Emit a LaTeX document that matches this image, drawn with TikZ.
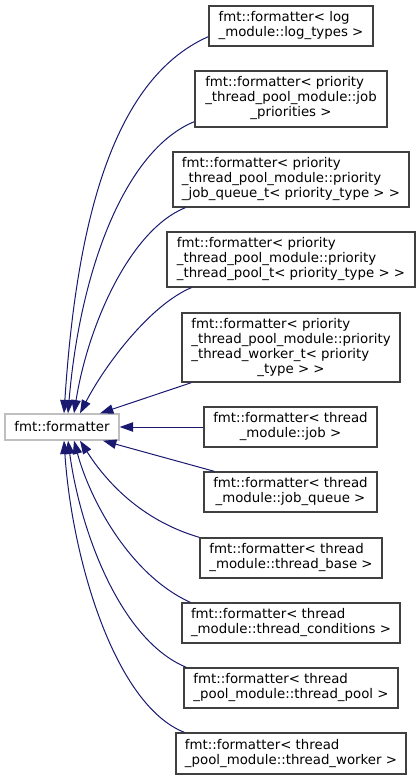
\documentclass[tikz,border=0pt]{standalone}
\usepackage{fontspec}
\setmainfont{DejaVu Sans}
\usetikzlibrary{arrows.meta}
\definecolor{edgeblue}{HTML}{191970}
\definecolor{boxgray}{HTML}{404040}
\definecolor{basegray}{HTML}{BFBFBF}
\newcommand{\dlab}[2]{\begin{tabular}{@{}l@{}}#1\\\multicolumn{1}{@{}c@{}}{#2}\end{tabular}}
\begin{document}
\begin{tikzpicture}[x=0.75pt,y=-0.75pt,
  sz/.style 2 args={minimum width=#1*0.75pt, minimum height=#2*0.75pt},
  cls/.style={draw=boxgray, line width=1pt, fill=white, inner sep=0pt, align=center,
    font=\fontsize{10}{11.25}\selectfont},
  basecls/.style={cls, draw=basegray},
  inh/.style={draw=edgeblue, line width=0.75pt, -{Triangle[length=10pt,width=7pt]}}]
\useasboundingbox (0,0) rectangle (420,780);
\node[basecls, sz={114}{26}] (fmt) at (62,427) {fmt::formatter};
\node[cls, sz={164}{40}] (c1) at (291,26) {\dlab{fmt::formatter< log}{\_module::log\_types >}};
\node[cls, sz={192}{56}] (c2) at (291,99) {\dlab{fmt::formatter< priority\\\_thread\_pool\_module::job}{\_priorities >}};
\node[cls, sz={236}{55}] (c3) at (291,179.5) {\dlab{fmt::formatter< priority\\\_thread\_pool\_module::priority}{\_job\_queue\_t< priority\_type > >}};
\node[cls, sz={248}{55}] (c4) at (291,259.5) {\dlab{fmt::formatter< priority\\\_thread\_pool\_module::priority}{\_thread\_pool\_t< priority\_type > >}};
\node[cls, sz={218}{69}] (c5) at (291,347.5) {\dlab{fmt::formatter< priority\\\_thread\_pool\_module::priority\\\_thread\_worker\_t< priority}{\_type > >}};
\node[cls, sz={173}{40}] (c6) at (290.5,427) {\dlab{fmt::formatter< thread}{\_module::job >}};
\node[cls, sz={173}{40}] (c7) at (290.5,492) {\dlab{fmt::formatter< thread}{\_module::job\_queue >}};
\node[cls, sz={182}{40}] (c8) at (291,558) {\dlab{fmt::formatter< thread}{\_module::thread\_base >}};
\node[cls, sz={218}{40}] (c9) at (291,623) {\dlab{fmt::formatter< thread}{\_module::thread\_conditions >}};
\node[cls, sz={214}{40}] (c10) at (291,688) {\dlab{fmt::formatter< thread}{\_pool\_module::thread\_pool >}};
\node[cls, sz={230}{41}] (c11) at (291,753.5) {\dlab{fmt::formatter< thread}{\_pool\_module::thread\_worker >}};
% edges to top of base
\draw[inh] ([shift={(0,-10)}]c1.south west) .. controls (110,80) and (76,230) .. ([shift={(2,0)}]fmt.north);
\draw[inh] ([shift={(0,-6)}]c2.south west) .. controls (125,150) and (80,270) .. ([shift={(6,0)}]fmt.north);
\draw[inh] ([shift={(13,0)}]c3.south west) .. controls (130,230) and (88,325) .. ([shift={(12,0)}]fmt.north);
\draw[inh] ([shift={(25,0)}]c4.south west) .. controls (150,305) and (105,365) .. ([shift={(18,0)}]fmt.north);
\draw[inh] ([shift={(10,0)}]c5.south west) -- ([shift={(38,0)}]fmt.north);
\draw[inh] (c6.west) -- (fmt.east);
% edges to bottom of base
\draw[inh] ([shift={(11,0)}]c7.north west) -- ([shift={(41,0)}]fmt.south);
\draw[inh] (c8.north west) .. controls (140,520) and (105,480) .. ([shift={(18,0)}]fmt.south);
\draw[inh] ([shift={(9,0)}]c9.north west) .. controls (130,575) and (90,500) .. ([shift={(12,0)}]fmt.south);
\draw[inh] ([shift={(3,0)}]c10.north west) .. controls (120,640) and (80,530) .. ([shift={(6,0)}]fmt.south);
\draw[inh] ([shift={(9,0)}]c11.north west) .. controls (115,705) and (72,560) .. ([shift={(2,0)}]fmt.south);
\end{tikzpicture}
\end{document}
